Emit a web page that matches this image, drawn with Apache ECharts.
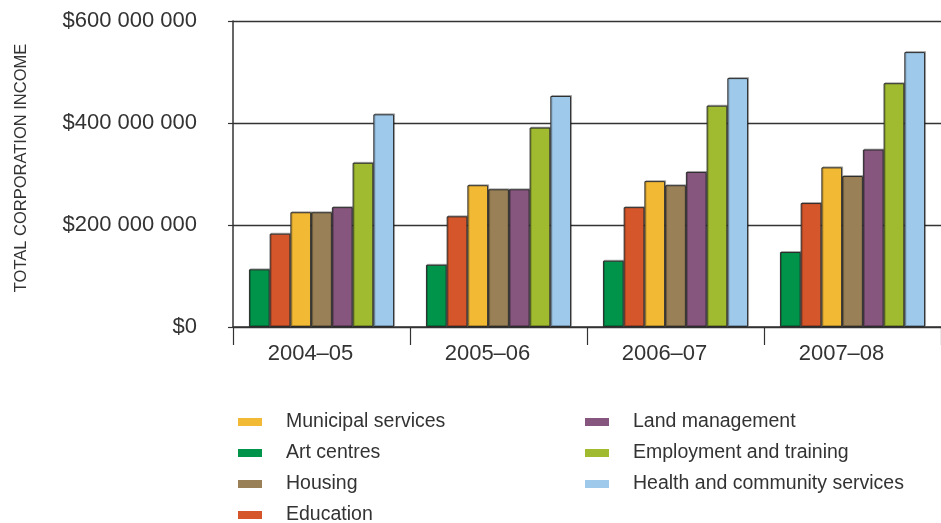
<!DOCTYPE html>
<html>
<head>
<meta charset="utf-8">
<script src="https://cdn.jsdelivr.net/npm/echarts@6/dist/echarts.min.js"></script>
<style>
  html, body { margin: 0; padding: 0; background: #ffffff; }
  #chart { width: 941px; height: 523px; }
</style>
</head>
<body>
<div id="chart"></div>
<script>
// Financial years on the category axis
const years = ['2004–05', '2005–06', '2006–07', '2007–08'];

// Total corporation income by service area (dollars)
const artCentres   = [113000000, 122000000, 130000000, 147000000];
const education    = [183000000, 217000000, 235000000, 243000000];
const municipal    = [225000000, 278000000, 286000000, 313000000];
const housing      = [225000000, 270000000, 278000000, 296000000];
const landMgmt     = [235000000, 270000000, 304000000, 348000000];
const employment   = [322000000, 391000000, 434000000, 478000000];
const health       = [417000000, 453000000, 488000000, 539000000];

// Value axis tick labels
const yTickLabels = ['$0', '$200 000 000', '$400 000 000', '$600 000 000'];

const seriesDefs = [
  { name: 'Art centres', data: artCentres, color: '#00944a' },
  { name: 'Education', data: education, color: '#d6562b' },
  { name: 'Municipal services', data: municipal, color: '#f2b935' },
  { name: 'Housing', data: housing, color: '#9a8056' },
  { name: 'Land management', data: landMgmt, color: '#87567e' },
  { name: 'Employment and training', data: employment, color: '#a0bb2f' },
  { name: 'Health and community services', data: health, color: '#9ec9ea' }
];

const FONT = '"Liberation Sans", Arial, sans-serif';
const TEXT = '#333333';
const LINE = '#333333';

const legendBase = {
  orient: 'vertical',
  itemWidth: 24,
  itemHeight: 8,
  itemGap: 11,
  icon: 'rect',
  selectedMode: false,
  height: 116,
  itemStyle: { borderWidth: 0 },
  textStyle: {
    fontFamily: FONT, fontSize: 19.5, color: TEXT,
    padding: [0, 0, 0, 19]
  }
};

const chart = echarts.init(document.getElementById('chart'), null, { renderer: 'canvas' });

chart.setOption({
  animation: false,
  backgroundColor: '#ffffff',
  grid: { left: 233, right: 0, top: 21, bottom: 196 },
  legend: [
    Object.assign({}, legendBase, {
      left: 233, top: 407,
      data: ['Municipal services', 'Art centres', 'Housing', 'Education']
    }),
    Object.assign({}, legendBase, {
      left: 580, top: 407,
      data: ['Land management', 'Employment and training', 'Health and community services']
    })
  ],
  xAxis: {
    type: 'category',
    data: years,
    axisLine: { show: true, lineStyle: { color: LINE, width: 1.5 } },
    axisTick: { show: true, length: 18, lineStyle: { color: LINE, width: 1.2 } },
    axisLabel: {
      fontFamily: FONT, fontSize: 22, color: TEXT, margin: 16,
      padding: [0, 22, 0, 0]
    }
  },
  yAxis: {
    type: 'value',
    min: 0,
    max: 600000000,
    interval: 200000000,
    name: 'TOTAL CORPORATION INCOME',
    nameLocation: 'middle',
    nameRotate: 90,
    nameGap: 203,
    nameTextStyle: { fontFamily: FONT, fontSize: 16.5, color: TEXT, padding: [0, 0, 0, 12] },
    axisLine: { show: true, lineStyle: { color: LINE, width: 1.5 } },
    axisTick: { show: true, length: 5, lineStyle: { color: LINE, width: 1.2 } },
    splitLine: { show: true, lineStyle: { color: LINE, width: 1.3 } },
    axisLabel: {
      fontFamily: FONT, fontSize: 22, color: TEXT, margin: 36,
      formatter: function (v) { return yTickLabels[Math.round(v / 200000000)]; }
    }
  },
  series: seriesDefs.map(function (s) {
    return {
      name: s.name,
      type: 'bar',
      data: s.data,
      barGap: '0%',
      barCategoryGap: '18%',
      itemStyle: {
        color: s.color,
        borderColor: '#2b2b2b',
        borderWidth: 1,
        shadowColor: 'rgba(0,0,0,0.25)',
        shadowOffsetX: 1,
        shadowOffsetY: -1
      }
    };
  })
});
</script>
</body>
</html>
